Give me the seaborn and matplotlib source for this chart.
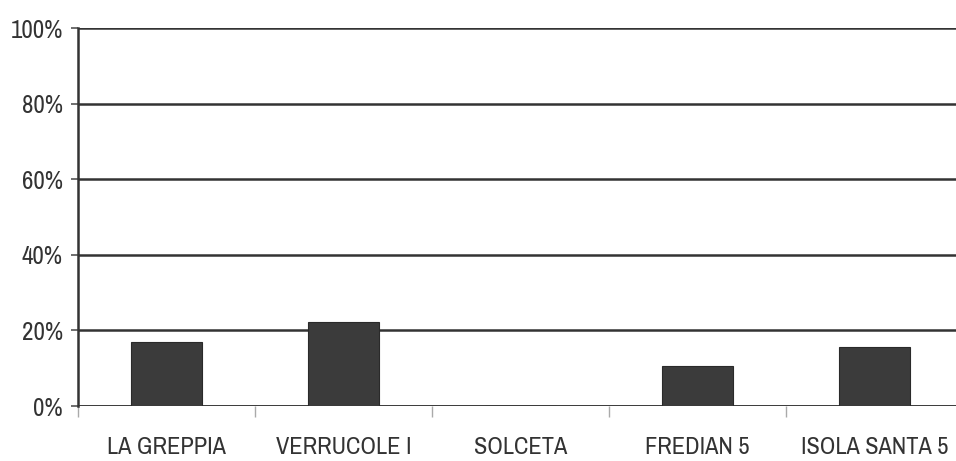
import matplotlib
matplotlib.use("Agg")
import matplotlib.pyplot as plt
import seaborn as sns
import pandas as pd
from matplotlib.ticker import FixedLocator, PercentFormatter

sites = ["LA GREPPIA", "VERRUCOLE I", "SOLCETA", "FREDIAN 5", "ISOLA SANTA 5"]
shares = [17.0, 22.2, 0.0, 10.6, 15.7]
y_ticks = [0, 20, 40, 60, 80, 100]

df = pd.DataFrame({"site": sites, "share": shares})

sns.set_theme(style="white")
plt.rcParams["font.family"] = ["Archivo Narrow", "Liberation Sans", "DejaVu Sans"]

fig = plt.figure(figsize=(9.56, 4.61), dpi=100)
ax = fig.add_axes([78 / 956, 55 / 461, 885 / 956, 378 / 461])

sns.barplot(data=df, x="site", y="share", ax=ax, color="#3b3b3b",
            edgecolor="#2a2a2a", linewidth=0.8, width=0.4, saturation=1)

ax.set_ylim(0, 100)
ax.set_xlim(-0.5, len(sites) - 0.5)
ax.yaxis.set_major_locator(FixedLocator(y_ticks))
ax.yaxis.set_major_formatter(PercentFormatter(decimals=0))
ax.set_axisbelow(True)
ax.grid(axis="y", color="#333333", linewidth=1.8)
ax.grid(axis="x", visible=False)

for side in ["top", "right", "bottom"]:
    ax.spines[side].set_visible(False)
ax.spines["left"].set_color("#333333")
ax.spines["left"].set_linewidth(1.8)
ax.axhline(0, color="#333333", linewidth=1.8, zorder=0.5)

ax.set_xlabel("")
ax.set_ylabel("")

ax.tick_params(axis="y", which="major", left=True, length=5, width=1.2,
               color="#555555", pad=6, labelsize=18, labelcolor="#333333")
ax.tick_params(axis="x", which="major", bottom=False, length=0, pad=22,
               labelsize=17.5, labelcolor="#333333")
ax.xaxis.set_minor_locator(FixedLocator([i - 0.5 for i in range(len(sites) + 1)]))
ax.tick_params(axis="x", which="minor", bottom=True, length=8, width=1.0,
               color="#aaaaaa")

fig.savefig("out.png", dpi=100, facecolor="white")
